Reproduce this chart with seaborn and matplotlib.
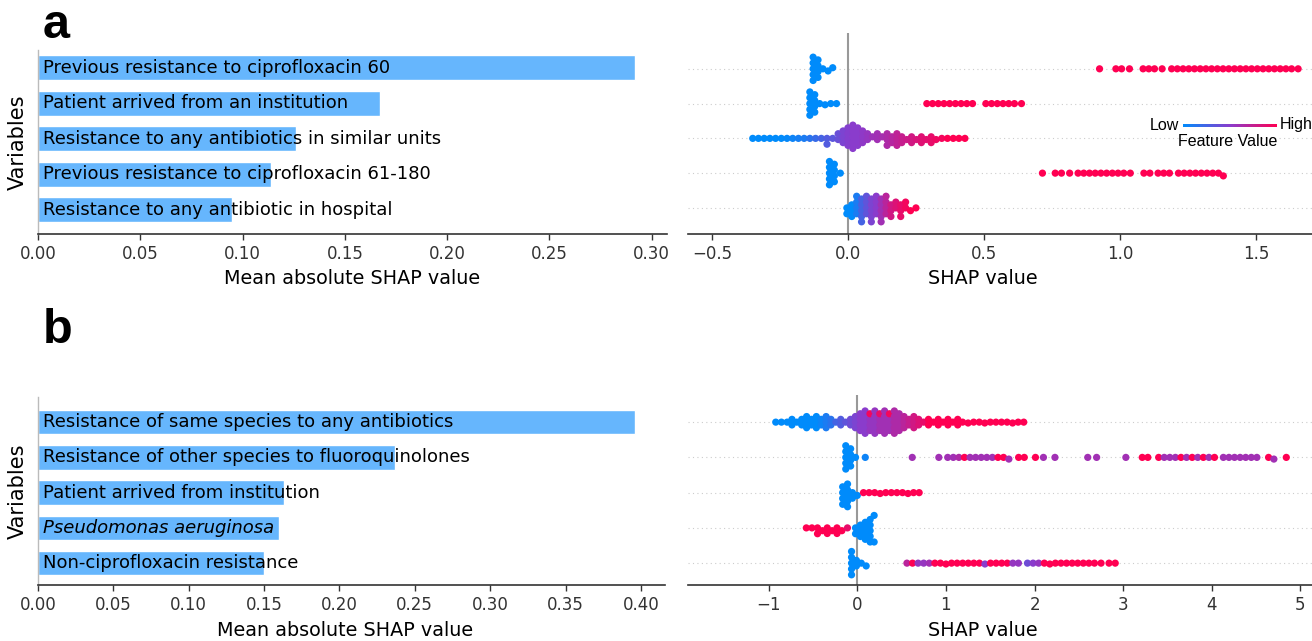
import warnings
warnings.filterwarnings("ignore")
import numpy as np
import pandas as pd
import matplotlib
matplotlib.use("Agg")
import matplotlib.pyplot as plt
import matplotlib.transforms as mtrans
from matplotlib.colors import LinearSegmentedColormap, Normalize
from matplotlib.cm import ScalarMappable
import seaborn as sns

# ---------------- data ----------------
features_a = ["Previous resistance to ciprofloxacin 60",
              "Patient arrived from an institution",
              "Resistance to any antibiotics in similar units",
              "Previous resistance to ciprofloxacin 61-180",
              "Resistance to any antibiotic in hospital"]
mean_abs_a = [0.292, 0.167, 0.126, 0.114, 0.095]

features_b = ["Resistance of same species to any antibiotics",
              "Resistance of other species to fluoroquinolones",
              "Patient arrived from institution",
              "Pseudomonas aeruginosa",
              "Non-ciprofloxacin resistance"]
mean_abs_b = [0.396, 0.237, 0.163, 0.160, 0.150]
italic_labels = {"Pseudomonas aeruginosa"}

bar_ticks_a = [0.00, 0.05, 0.10, 0.15, 0.20, 0.25, 0.30]
bar_ticks_b = [0.00, 0.05, 0.10, 0.15, 0.20, 0.25, 0.30, 0.35, 0.40]
shap_ticks_a = [-0.5, 0.0, 0.5, 1.0, 1.5]
shap_ticks_b = [-1, 0, 1, 2, 3, 4, 5]

# beeswarm samples: (SHAP value, number of samples, feature value 0=low 1=high)
swarm_a1 = [(-0.128, 5, 0.0), (-0.110, 4, 0.0), (-0.092, 1, 0.0), (-0.073, 1, 0.0), (-0.056, 1, 0.0),
            (0.925, 1, 1), (0.985, 1, 1), (1.006, 1, 1), (1.035, 1, 1),
            (1.085, 1, 1), (1.106, 1, 1), (1.127, 1, 1), (1.155, 1, 1),
            (1.190, 1, 1), (1.211, 1, 1), (1.232, 1, 1), (1.253, 1, 1), (1.274, 1, 1), (1.295, 1, 1),
            (1.316, 1, 1), (1.337, 1, 1), (1.358, 1, 1), (1.379, 1, 1), (1.400, 1, 1), (1.421, 1, 1),
            (1.442, 1, 1), (1.463, 1, 1), (1.484, 1, 1), (1.505, 1, 1), (1.526, 1, 1), (1.547, 1, 1),
            (1.568, 1, 1), (1.589, 1, 1), (1.610, 1, 1), (1.631, 1, 1), (1.655, 1, 1)]
swarm_a2 = [(-0.140, 5, 0.0), (-0.122, 4, 0.0), (-0.104, 1, 0.0), (-0.084, 1, 0.0), (-0.063, 1, 0.0), (-0.042, 1, 0.0),
            (0.290, 1, 1), (0.311, 1, 1), (0.332, 1, 1), (0.353, 1, 1), (0.374, 1, 1), (0.395, 1, 1),
            (0.416, 1, 1), (0.437, 1, 1), (0.458, 1, 1),
            (0.507, 1, 1), (0.528, 1, 1), (0.549, 1, 1), (0.570, 1, 1), (0.591, 1, 1), (0.612, 1, 1), (0.638, 1, 1)]
swarm_a3 = [(-0.350, 1, 0.0), (-0.329, 1, 0.0), (-0.308, 1, 0.0), (-0.287, 1, 0.0), (-0.266, 1, 0.0),
            (-0.245, 1, 0.0), (-0.224, 1, 0.02), (-0.203, 1, 0.05), (-0.182, 1, 0.08), (-0.161, 1, 0.1),
            (-0.140, 1, 0.15), (-0.119, 1, 0.2), (-0.098, 1, 0.25), (-0.077, 2, 0.3), (-0.056, 1, 0.33),
            (-0.036, 2, 0.38),
            (-0.018, 3, 0.45), (0.000, 4, 0.48), (0.018, 5, 0.5), (0.036, 4, 0.5), (0.054, 3, 0.52),
            (0.072, 2, 0.55), (0.090, 1, 0.58), (0.108, 2, 0.6), (0.126, 1, 0.62), (0.144, 3, 0.65),
            (0.162, 2, 0.68), (0.180, 3, 0.72), (0.198, 2, 0.75), (0.216, 1, 0.78), (0.234, 2, 0.8),
            (0.252, 1, 0.83), (0.270, 2, 0.86), (0.288, 1, 0.88), (0.306, 2, 0.9), (0.324, 1, 0.93),
            (0.345, 1, 0.95), (0.366, 1, 1), (0.387, 1, 1), (0.408, 1, 1), (0.430, 1, 1)]
swarm_a4 = [(-0.068, 5, 0.0), (-0.050, 4, 0.0), (-0.028, 1, 0.0),
            (0.715, 1, 1), (0.762, 1, 1), (0.785, 1, 1), (0.815, 1, 1),
            (0.846, 1, 1), (0.867, 1, 1), (0.888, 1, 1), (0.909, 1, 1), (0.930, 1, 1), (0.951, 1, 1),
            (0.972, 1, 1), (0.993, 1, 1), (1.014, 1, 1), (1.038, 1, 1),
            (1.088, 1, 1), (1.110, 1, 1), (1.140, 1, 1), (1.161, 1, 1), (1.182, 1, 1),
            (1.215, 1, 1), (1.236, 1, 1), (1.257, 1, 1), (1.278, 1, 1), (1.299, 1, 1), (1.320, 1, 1),
            (1.341, 1, 1), (1.362, 1, 1), (1.380, 1, 1)]
swarm_a5 = [(-0.004, 2, 0.0), (0.014, 3, 0.0), (0.032, 4, 0.1), (0.050, 5, 0.25), (0.068, 4, 0.35),
            (0.086, 5, 0.45), (0.104, 4, 0.5), (0.122, 5, 0.6), (0.140, 4, 0.7), (0.158, 3, 0.8),
            (0.176, 2, 0.85), (0.194, 3, 0.9), (0.212, 2, 0.95), (0.230, 1, 1), (0.250, 1, 1)]

swarm_b1 = [(-0.920, 1, 0.0), (-0.856, 1, 0.0), (-0.792, 1, 0.0), (-0.737, 2, 0.0), (-0.682, 1, 0.0),
            (-0.627, 2, 0.0), (-0.572, 3, 0.0), (-0.517, 2, 0.0), (-0.462, 3, 0.0), (-0.407, 2, 0.05),
            (-0.352, 3, 0.1), (-0.297, 2, 0.15), (-0.242, 1, 0.25), (-0.187, 2, 0.3), (-0.132, 1, 0.35),
            (-0.077, 2, 0.4),
            (-0.022, 3, 0.45), (0.033, 4, 0.5), (0.088, 5, 0.5), (0.143, 3, 0.55), (0.143, 1, 0.95),
            (0.198, 5, 0.55), (0.253, 3, 0.6), (0.253, 1, 0.9), (0.308, 5, 0.6), (0.363, 3, 0.6),
            (0.363, 1, 0.95), (0.418, 5, 0.65), (0.473, 4, 0.65), (0.528, 3, 0.7), (0.583, 2, 0.75),
            (0.638, 3, 0.8), (0.693, 2, 0.85),
            (0.748, 1, 0.9), (0.803, 2, 1), (0.858, 1, 1), (0.913, 2, 1), (0.968, 1, 1), (1.023, 2, 1),
            (1.078, 1, 1), (1.133, 2, 1), (1.188, 1, 1),
            (1.250, 1, 1), (1.313, 1, 1), (1.376, 1, 1), (1.438, 1, 1), (1.501, 1, 1), (1.564, 1, 1),
            (1.627, 1, 1), (1.690, 1, 1), (1.752, 1, 1), (1.815, 1, 1), (1.878, 1, 1)]
swarm_b2 = [(-0.130, 5, 0.0), (-0.075, 4, 0.0), (-0.020, 1, 0.0), (0.090, 1, 0.05),
            (0.62, 1, 0.6), (0.92, 1, 0.6), (1.020, 1, 0.6), (1.083, 1, 0.6), (1.146, 1, 0.65),
            (1.209, 1, 1), (1.272, 1, 0.6), (1.335, 1, 0.6), (1.398, 1, 0.6), (1.461, 1, 0.6),
            (1.524, 1, 0.6), (1.587, 1, 1), (1.650, 1, 1), (1.710, 1, 0.6),
            (1.820, 1, 1), (1.884, 1, 1), (2.01, 1, 1), (2.10, 1, 0.6), (2.23, 1, 0.6),
            (2.60, 1, 0.6), (2.70, 1, 0.6), (3.03, 1, 0.6), (3.215, 1, 1), (3.278, 1, 1),
            (3.400, 1, 1), (3.463, 1, 0.6), (3.526, 1, 0.6), (3.589, 1, 0.6), (3.652, 1, 1),
            (3.715, 1, 0.6), (3.778, 1, 1), (3.841, 1, 0.6), (3.904, 1, 1), (3.967, 1, 0.6),
            (4.030, 1, 1), (4.130, 1, 0.6), (4.193, 1, 0.6), (4.256, 1, 0.6), (4.319, 1, 0.6),
            (4.382, 1, 0.6), (4.445, 1, 0.6), (4.508, 1, 0.6), (4.640, 1, 1), (4.700, 1, 0.6),
            (4.840, 1, 1)]
swarm_b3 = [(-0.165, 4, 0.0), (-0.110, 5, 0.0), (-0.055, 2, 0.0), (0.000, 1, 0.0),
            (0.070, 1, 1), (0.133, 1, 1), (0.196, 1, 1), (0.258, 1, 1), (0.321, 1, 1), (0.384, 1, 1),
            (0.447, 1, 1), (0.510, 1, 1), (0.572, 1, 1), (0.635, 1, 1), (0.698, 1, 1)]
swarm_b4 = [(-0.575, 1, 1), (-0.512, 1, 1), (-0.449, 2, 1), (-0.394, 1, 1), (-0.339, 2, 1),
            (-0.284, 1, 1), (-0.229, 2, 1), (-0.174, 1, 1), (-0.111, 1, 0.9),
            (-0.020, 2, 0.0), (0.035, 3, 0.0), (0.090, 4, 0.0), (0.145, 5, 0.0), (0.190, 2, 0.0)]
swarm_b5 = [(-0.065, 5, 0.0), (-0.010, 2, 0.0), (0.045, 1, 0.0), (0.100, 1, 0.0),
            (0.560, 1, 0.7), (0.623, 1, 1), (0.686, 1, 0.55), (0.749, 1, 0.55), (0.812, 1, 0.6),
            (0.875, 1, 1), (0.938, 1, 1), (1.000, 1, 1), (1.063, 1, 1), (1.126, 1, 1), (1.189, 1, 1),
            (1.252, 1, 1), (1.315, 1, 1), (1.378, 1, 1), (1.440, 1, 0.5), (1.503, 1, 1), (1.566, 1, 1),
            (1.629, 1, 1), (1.692, 1, 1), (1.755, 1, 0.55), (1.818, 1, 0.55), (1.920, 1, 0.4),
            (1.983, 1, 0.5), (2.046, 1, 0.55), (2.110, 1, 1), (2.172, 1, 1), (2.235, 1, 1),
            (2.298, 1, 1), (2.361, 1, 1), (2.424, 1, 1), (2.487, 1, 1), (2.550, 1, 1), (2.613, 1, 1),
            (2.676, 1, 1), (2.750, 1, 1), (2.840, 1, 1), (2.910, 1, 1)]

swarms_a = [swarm_a1, swarm_a2, swarm_a3, swarm_a4, swarm_a5]
swarms_b = [swarm_b1, swarm_b2, swarm_b3, swarm_b4, swarm_b5]

# ---------------- style ----------------
sns.set_theme(style="white")
plt.rcParams["font.family"] = ["DejaVu Sans"]
plt.rcParams["text.color"] = "black"
W, H, DPI = 1312, 641, 100
fig = plt.figure(figsize=(W / DPI, H / DPI), dpi=DPI)
fig.patch.set_facecolor("white")

cmap = LinearSegmentedColormap.from_list("shap_rb", ["#008bfb", "#8a3ccc", "#ff0052"])
BAR_COLOR = "#66b6fd"
DARK = "#333333"
SWARM_SIZE = 4.0      # marker size used to lay out the swarm
RENDER_SIZE = 5.2     # marker size used to draw (points overlap like the original)


def px_axes(x0, y0, x1, y1):
    return fig.add_axes([x0 / W, 1 - y1 / H, (x1 - x0) / W, (y1 - y0) / H])


def to_frame(features, swarms):
    recs = []
    for feat, pts in zip(features, swarms):
        for v, n, fv in pts:
            recs.extend([(feat, v, fv)] * n)
    return pd.DataFrame(recs, columns=["feature", "shap", "fval"])


def bar_panel(ax, features, values, ticks, xmax, ylim, label_x):
    df = pd.DataFrame({"feature": features, "value": values})
    sns.barplot(data=df, x="value", y="feature", order=features, orient="h",
                color=BAR_COLOR, saturation=1, width=0.7, ax=ax)
    ax.set_xlim(0, xmax)
    ax.set_ylim(*ylim)
    ax.set_yticks([])
    ax.set_xticks(ticks)
    ax.set_xticklabels([f"{t:.2f}" for t in ticks])
    ax.tick_params(axis="x", labelsize=12, colors=DARK, length=4, width=1, direction="out",
                   bottom=True, pad=4)
    for s in ["top", "right"]:
        ax.spines[s].set_visible(False)
    ax.spines["bottom"].set_color(DARK)
    ax.spines["bottom"].set_linewidth(1.2)
    ax.spines["left"].set_color("#bbbbbb")
    ax.spines["left"].set_linewidth(1.0)
    off = mtrans.offset_copy(ax.transData, fig=fig, x=5, y=0, units="dots")
    for i, name in enumerate(features):
        ax.text(0, i, name, transform=off, ha="left", va="center", fontsize=13,
                color="black", style="italic" if name in italic_labels else "normal")
    ax.set_ylabel("Variables", fontsize=15, color="black")
    ax.yaxis.label.set_va("center")
    ax.yaxis.set_label_coords(label_x, 0.5)
    ax.set_xlabel("Mean absolute SHAP value", fontsize=13.8, color="black")


def swarm_panel(ax, features, swarms, ticks, xlim, ylim):
    df = to_frame(features, swarms)
    for i in range(len(features)):
        ax.axhline(i, color="#cccccc", lw=0.8, dashes=(1, 3), zorder=0)
    ax.axvline(0, color="#999999", lw=1.5, zorder=1)
    sns.swarmplot(data=df, x="shap", y="feature", order=features, hue="fval",
                  palette=cmap, hue_norm=(0, 1), orient="h", size=SWARM_SIZE, linewidth=0,
                  legend=False, ax=ax, zorder=3)
    ax.set_xlim(*xlim)
    ax.set_ylim(*ylim)
    ax.set_yticks([])
    ax.set_ylabel("")
    ax.set_xticks(ticks)
    ax.tick_params(axis="x", labelsize=12, colors=DARK, length=4, width=1, direction="out",
                   bottom=True, pad=4)
    for s in ["top", "right", "left"]:
        ax.spines[s].set_visible(False)
    ax.spines["bottom"].set_color(DARK)
    ax.spines["bottom"].set_linewidth(1.2)
    ax.set_xlabel("SHAP value", fontsize=13.8, color="black")


# panel a
ax_a_bar = px_axes(38, 50, 667, 234)
bar_panel(ax_a_bar, features_a, mean_abs_a, bar_ticks_a, 0.3075, (4.68, -0.5), -0.032)
ax_a_bar.xaxis.set_label_coords(0.5, -0.19)

ax_a_sw = px_axes(688, 33, 1312, 234)
swarm_panel(ax_a_sw, features_a, swarms_a, shap_ticks_a, (-0.588, 1.706), (4.75, -1.03))
ax_a_sw.xaxis.set_label_coords(0.473, -0.175)

# panel b
ax_b_bar = px_axes(38, 397, 665, 585)
bar_panel(ax_b_bar, features_b, mean_abs_b, bar_ticks_b, 0.416, (4.62, -0.71), -0.032)
ax_b_bar.xaxis.set_label_coords(0.49, -0.19)

ax_b_sw = px_axes(688, 395, 1312, 585)
swarm_panel(ax_b_sw, features_b, swarms_b, shap_ticks_b, (-1.91, 5.13), (4.62, -0.77))
ax_b_sw.xaxis.set_label_coords(0.473, -0.19)

# feature-value legend
cax = px_axes(1183, 123.5, 1277, 126.5)
cb = fig.colorbar(ScalarMappable(norm=Normalize(0, 1), cmap=cmap), cax=cax, orientation="horizontal")
cb.set_ticks([])
cb.outline.set_visible(False)
fig.text(1179 / W, 1 - 125 / H, "Low", ha="right", va="center", fontsize=11.5,
         family=["Liberation Sans", "DejaVu Sans"])
fig.text(1280 / W, 1 - 125 / H, "High", ha="left", va="center", fontsize=11.5,
         family=["Liberation Sans", "DejaVu Sans"])
fig.text(1228 / W, 1 - 142 / H, "Feature Value", ha="center", va="center", fontsize=11.5,
         family=["Liberation Sans", "DejaVu Sans"])

# panel letters
fig.text(43 / W, 1 - 38 / H, "a", fontsize=35, fontweight="bold", va="baseline", color="black",
         family=["Liberation Sans", "DejaVu Sans"])
fig.text(43 / W, 1 - 343 / H, "b", fontsize=35, fontweight="bold", va="baseline", color="black",
         family=["Liberation Sans", "DejaVu Sans"])

# lay out the swarms once, then freeze positions and draw with slightly bigger dots
fig.canvas.draw()
for ax in (ax_a_sw, ax_b_sw):
    for coll in ax.collections:
        if "draw" in coll.__dict__:
            del coll.draw
            coll.set_sizes([RENDER_SIZE ** 2])

fig.savefig("out.png", dpi=DPI, facecolor="white")
